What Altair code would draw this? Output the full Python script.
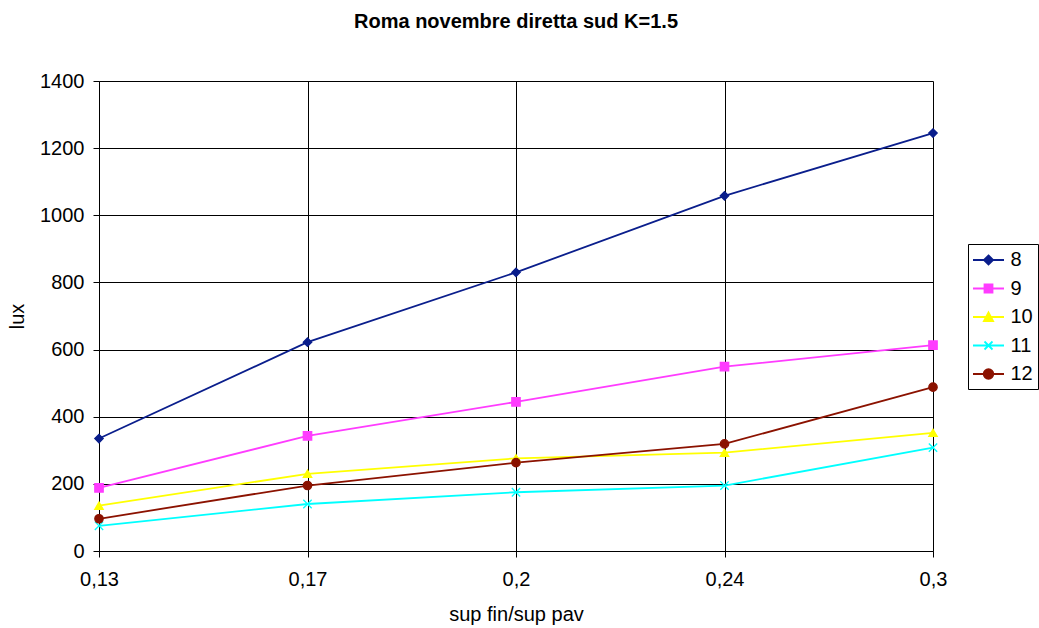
import altair as alt
import pandas as pd

# Illuminance (lux) vs window/floor area ratio, Rome, November, direct south, K=1.5
rapporti = ["0,13", "0,17", "0,2", "0,24", "0,3"]
serie = ["8", "9", "10", "11", "12"]
lux_8 = [335, 622, 830, 1058, 1245]
lux_9 = [188, 343, 444, 549, 613]
lux_10 = [135, 230, 276, 293, 352]
lux_11 = [75, 140, 175, 195, 308]
lux_12 = [96, 195, 263, 319, 488]

colori = ["#0a1e8c", "#ff3cff", "#ffff00", "#00ffff", "#8b1200"]

# marker shapes drawn on the lines
forme = [
    "diamond",
    "square",
    "triangle-up",
    "M-1,-1L1,1M-1,1L1,-1",
    "circle",
]

# legend symbols: a short line segment with the marker in the middle
linea = "M-1.55,0H1.55"
forme_legenda = [
    linea + "M0,-0.46L0.46,0L0,0.46L-0.46,0Z",
    linea + "M-0.4,-0.4H0.4V0.4H-0.4Z",
    linea + "M0,-0.46L0.46,0.4H-0.46Z",
    linea + "M-0.4,-0.4L0.4,0.4M-0.4,0.4L0.4,-0.4",
    linea + "M-0.48,0A0.48,0.48,0,1,0,0.48,0A0.48,0.48,0,1,0,-0.48,0Z",
]

valori = [lux_8, lux_9, lux_10, lux_11, lux_12]
righe = []
for s, vals in zip(serie, valori):
    for i, (r, v) in enumerate(zip(rapporti, vals)):
        righe.append({"rapporto": r, "serie": s, "lux": v, "idx": i})
df = pd.DataFrame(righe)

FONT = "Liberation Sans, Arial, sans-serif"

x_enc = alt.X(
    "rapporto:O",
    sort=rapporti,
    scale=alt.Scale(type="point", padding=0),
    axis=alt.Axis(
        title="sup fin/sup pav",
        labelAngle=0,
        grid=True,
        labelPadding=12,
        titleX=417,
        titleY=69,
        titleBaseline="alphabetic",
        titleAnchor="middle",
        titleAlign="center",
    ),
)
y_enc = alt.Y(
    "lux:Q",
    scale=alt.Scale(domain=[0, 1400], nice=False),
    axis=alt.Axis(
        title="lux",
        values=list(range(0, 1401, 200)),
        format="d",
        grid=True,
        labelPadding=9,
        titleX=-75.7,
        titleY=235,
        titleAngle=-90,
        titleAlign="center",
        titleBaseline="alphabetic",
    ),
)


def scala(rng):
    return alt.Scale(domain=serie, range=rng)


base = alt.Chart(df).encode(x=x_enc, y=y_enc)

lines = base.mark_line(strokeWidth=1.8).encode(
    color=alt.Color("serie:N", sort=serie, scale=scala(colori), legend=None),
    order=alt.Order("idx:Q"),
)

points = base.mark_point(filled=True, size=70, strokeWidth=1.3, opacity=1).encode(
    color=alt.Color("serie:N", sort=serie, scale=scala(colori), legend=None),
    stroke=alt.Stroke("serie:N", sort=serie, scale=scala(colori), legend=None),
    shape=alt.Shape("serie:N", sort=serie, scale=scala(forme), legend=None),
)

legenda_cfg = dict(
    title=None,
    orient="none",
    legendX=869,
    legendY=163,
    padding=5,
    strokeColor="black",
    fillColor="white",
    labelFont=FONT,
    labelFontSize=20,
    labelColor="black",
    symbolSize=400,
    symbolOffset=4.5,
    labelOffset=11,
    rowPadding=7.5,
    symbolStrokeWidth=1.8,
    symbolOpacity=1,
)

legenda = (
    base.transform_filter("datum.lux < 0")
    .mark_point(filled=True, strokeWidth=1.8, opacity=1)
    .encode(
        color=alt.Color("serie:N", sort=serie, scale=scala(colori), legend=alt.Legend(**legenda_cfg)),
        stroke=alt.Stroke("serie:N", sort=serie, scale=scala(colori), legend=alt.Legend(**legenda_cfg)),
        shape=alt.Shape("serie:N", sort=serie, scale=scala(forme_legenda), legend=alt.Legend(**legenda_cfg)),
    )
)

chart = (
    alt.layer(lines, points, legenda)
    .resolve_scale(color="independent", stroke="independent", shape="independent")
    .properties(
        width=834,
        height=470,
        autosize=alt.AutoSizeParams(type="none"),
        padding={"left": 99, "top": 81, "right": 106, "bottom": 77},
        background="white",
        title=alt.Title(
            "Roma novembre diretta sud K=1.5",
            font=FONT,
            fontSize=20,
            fontWeight="bold",
            color="black",
            anchor="middle",
            frame="group",
            baseline="alphabetic",
            offset=23,
        ),
    )
    .configure_view(stroke=None)
    .configure_axis(
        labelFont=FONT,
        labelFontSize=20,
        labelColor="black",
        titleFont=FONT,
        titleFontSize=20,
        titleFontWeight="normal",
        titleColor="black",
        domainColor="black",
        domainWidth=1,
        tickColor="black",
        tickSize=6,
        tickWidth=1,
        gridColor="black",
        gridOpacity=1,
        gridWidth=1,
    )
)

chart.save("out.html", embed_options={"renderer": "svg", "actions": False})
